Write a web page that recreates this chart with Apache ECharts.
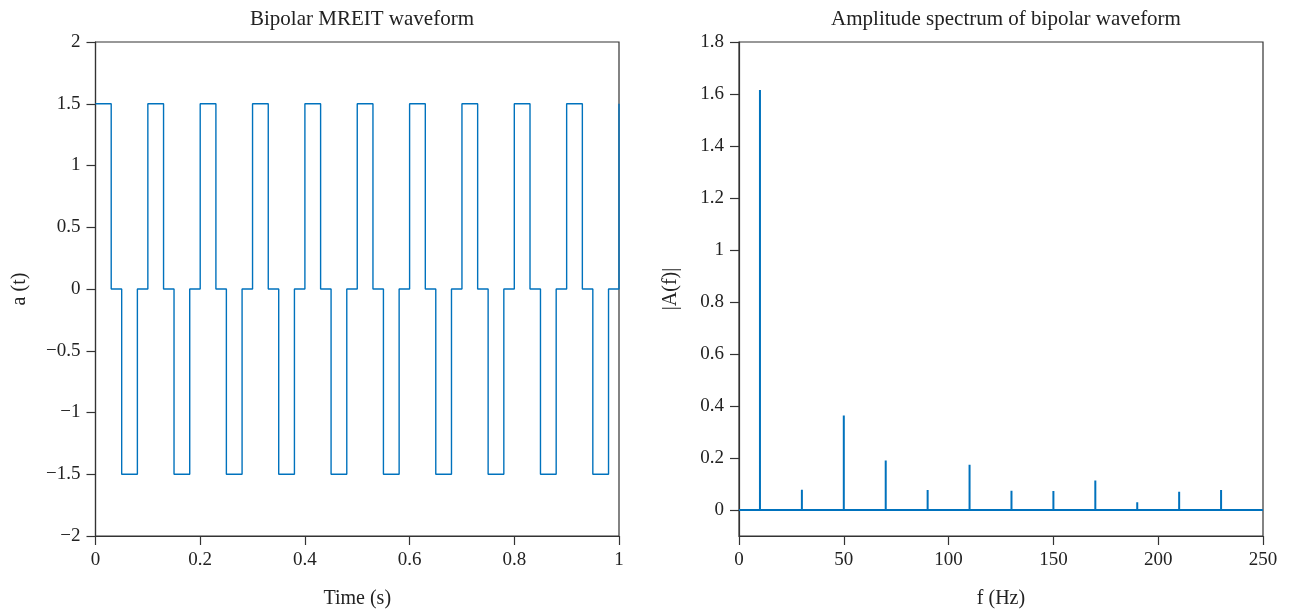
<!DOCTYPE html>
<html>
<head>
<meta charset="utf-8">
<script src="https://cdn.jsdelivr.net/npm/echarts@6/dist/echarts.min.js"></script>
<style>html,body{margin:0;padding:0;background:#fff}#c{width:1290px;height:614px}</style>
</head>
<body>
<div id="c"></div>
<script>
// ---- Data ----
var waveTimes = [0,0.03,0.05,0.08, 0.1,0.13,0.15,0.18, 0.2,0.23,0.25,0.28, 0.3,0.33,0.35,0.38,
  0.4,0.43,0.45,0.48, 0.5,0.53,0.55,0.58, 0.6,0.63,0.65,0.68, 0.7,0.73,0.75,0.78,
  0.8,0.83,0.85,0.88, 0.9,0.93,0.95,0.98, 1.0];
var waveValues = [1.5,0,-1.5,0, 1.5,0,-1.5,0, 1.5,0,-1.5,0, 1.5,0,-1.5,0,
  1.5,0,-1.5,0, 1.5,0,-1.5,0, 1.5,0,-1.5,0, 1.5,0,-1.5,0,
  1.5,0,-1.5,0, 1.5,0,-1.5,0, 1.5];
var specFreqs = [10,30,50,70,90,110,130,150,170,190,210,230];
var specAmps  = [1.615,0.078,0.363,0.19,0.077,0.174,0.074,0.073,0.113,0.03,0.07,0.077];
var specRange = [0,250];
var specYTicks = [0,0.2,0.4,0.6,0.8,1,1.2,1.4,1.6,1.8];

// ---- Build series tables ----
var waveData = waveTimes.map(function(t,i){return [t, waveValues[i]];});
var specData = [[specRange[0],0]];
specFreqs.forEach(function(f,i){ specData.push([f,0],[f,specAmps[i]],[f,0]); });
specData.push([specRange[1],0]);

var FONT = 'Liberation Serif';
var TXT = '#222';
var AX = '#333';
var BLUE = '#0072BD';
function fmt(v){ return String(v).replace('-', '\u2212'); }

function axisCommon(){
  return {
    axisLine:{show:true,onZero:false,lineStyle:{color:AX,width:1.2}},
    axisTick:{show:true,inside:false,length:9,lineStyle:{color:AX,width:1.2}},
    axisLabel:{color:TXT,fontFamily:FONT,fontSize:19,margin:15,formatter:fmt},
    splitLine:{show:false},
    nameTextStyle:{color:TXT,fontFamily:FONT,fontSize:20},
    nameLocation:'middle'
  };
}

var x0 = Object.assign(axisCommon(), {type:'value',gridIndex:0,min:0,max:1,interval:0.2,name:'Time (s)',nameGap:53});
var y0 = Object.assign(axisCommon(), {type:'value',gridIndex:0,min:-2,max:2,interval:0.5,name:'a (t)',nameGap:66});
var x1 = Object.assign(axisCommon(), {type:'value',gridIndex:1,min:specRange[0],max:specRange[1],interval:50,name:'f (Hz)',nameGap:53});
var y1 = Object.assign(axisCommon(), {type:'value',gridIndex:1,min:-0.1,max:1.8,name:'|A(f)|',nameGap:58});
y1.axisTick = Object.assign({}, y1.axisTick, {customValues:specYTicks});
y1.axisLabel = Object.assign({}, y1.axisLabel, {customValues:specYTicks});

var option = {
  backgroundColor:'#fff',
  animation:false,
  title:[
    {text:'Bipolar MREIT waveform',left:357,top:4,textAlign:'center',
     textStyle:{fontFamily:FONT,fontSize:21,fontWeight:'normal',color:TXT}},
    {text:'Amplitude spectrum of bipolar waveform',left:1001,top:4,textAlign:'center',
     textStyle:{fontFamily:FONT,fontSize:21,fontWeight:'normal',color:TXT}}
  ],
  grid:[
    {left:95.5,right:671,top:42,bottom:77,show:true,borderColor:AX,borderWidth:1.2,backgroundColor:'transparent'},
    {left:739,right:27,top:42,bottom:77,show:true,borderColor:AX,borderWidth:1.2,backgroundColor:'transparent'}
  ],
  xAxis:[x0,x1],
  yAxis:[y0,y1],
  series:[
    {type:'line',xAxisIndex:0,yAxisIndex:0,data:waveData,step:'end',showSymbol:false,
     lineStyle:{color:BLUE,width:1.4},clip:true},
    {type:'line',xAxisIndex:1,yAxisIndex:1,data:specData,showSymbol:false,
     lineStyle:{color:BLUE,width:2},clip:true}
  ]
};
var chart = echarts.init(document.getElementById('c'));
chart.setOption(option);
</script>
</body>
</html>
